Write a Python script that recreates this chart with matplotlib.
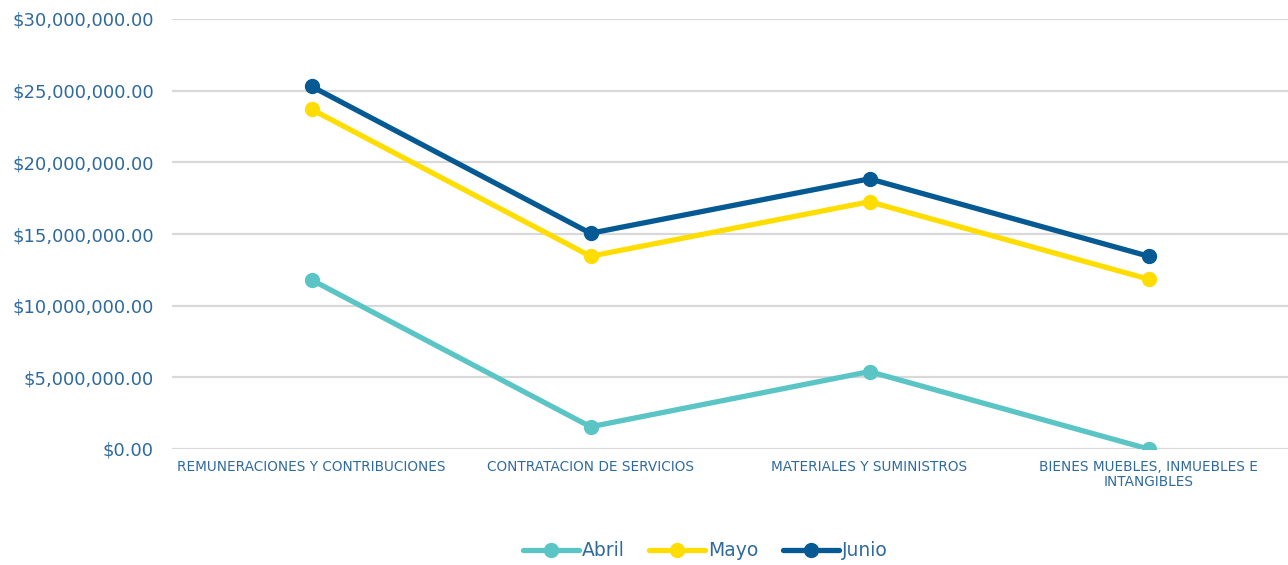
import matplotlib.pyplot as plt
from matplotlib.ticker import FuncFormatter

# Data (millions of pesos)
categories = ['REMUNERACIONES Y CONTRIBUCIONES', 'CONTRATACION DE SERVICIOS',
              'MATERIALES Y SUMINISTROS', 'BIENES MUEBLES, INMUEBLES E\nINTANGIBLES']
abril = [11.8e6, 1.55e6, 5.4e6, 0.0]
mayo = [23.7e6, 13.45e6, 17.25e6, 11.85e6]
junio = [25.3e6, 15.05e6, 18.85e6, 13.45e6]
series_names = ['Abril', 'Mayo', 'Junio']
colors = ['#5BC5C6', '#FFDD00', '#065A94']
y_ticks = [0, 5e6, 10e6, 15e6, 20e6, 25e6, 30e6]

text_color = '#2F6A9E'
plt.rcParams['font.family'] = ['DejaVu Sans']

fig = plt.figure(figsize=(12.88, 5.65), dpi=100)
ax = fig.add_axes([172 / 1288, 1 - 449 / 565, 1 - 172 / 1288, (449 - 19) / 565])

x = range(len(categories))
for vals, name, col in zip([abril, mayo, junio], series_names, colors):
    ax.plot(x, vals, color=col, lw=3.8, marker='o', markersize=10,
            label=name, solid_capstyle='round', zorder=3)

ax.set_xlim(-0.5, len(categories) - 0.5)
ax.set_ylim(0, 30e6)
ax.set_yticks(y_ticks)
ax.yaxis.set_major_formatter(FuncFormatter(lambda v, p: '${:,.2f}'.format(v)))
ax.set_xticks(list(x))
ax.set_xticklabels(categories, fontsize=9.8, color=text_color, linespacing=1.05)

ax.grid(axis='y', color='#D9D9D9', lw=1.6, zorder=0)
ax.tick_params(axis='y', length=0, pad=13, labelsize=13, labelcolor=text_color)
ax.tick_params(axis='x', length=0, pad=8)
for s in ax.spines.values():
    s.set_visible(False)
ax.set_clip_on(False)

leg = fig.legend(loc='center', bbox_to_anchor=(705 / 1288, 1 - 551 / 565), ncol=3,
                 frameon=False, fontsize=13.5, handlelength=3.0, handletextpad=0.15,
                 columnspacing=1.3, labelcolor=text_color)

fig.savefig('out.png', dpi=100)
